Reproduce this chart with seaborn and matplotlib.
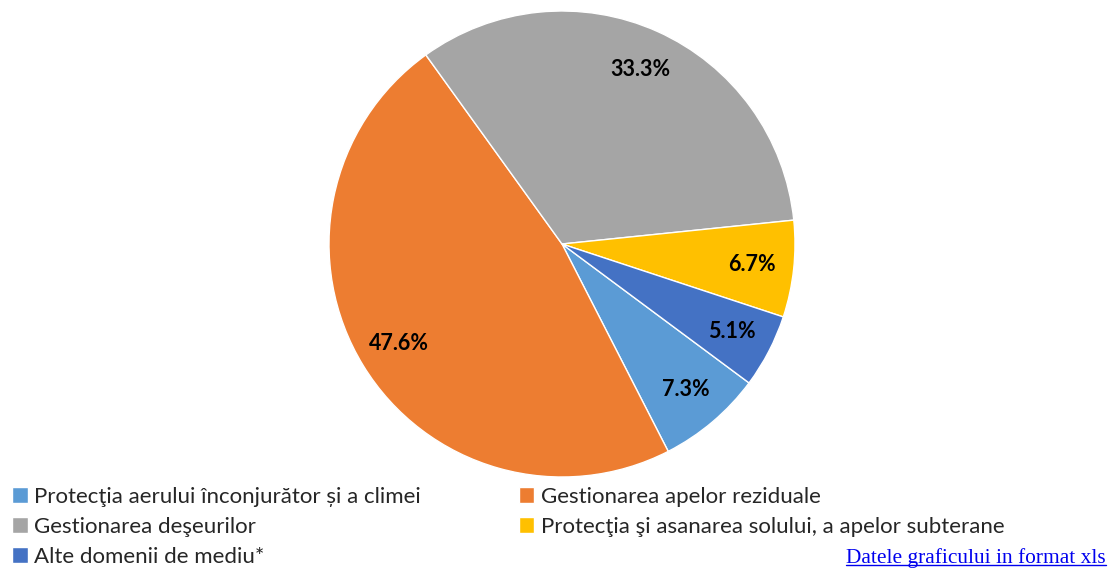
import matplotlib
matplotlib.use('Agg')
import matplotlib.pyplot as plt
import seaborn as sns

sns.set_theme(style='white')
plt.rcParams['font.family'] = ['Lato', 'DejaVu Sans']

# Data
categories = ['Protecţia aerului înconjurător și a climei',
              'Gestionarea apelor reziduale',
              'Gestionarea deşeurilor',
              'Protecţia şi asanarea solului, a apelor subterane',
              'Alte domenii de mediu*']
shares = [7.3, 47.6, 33.3, 6.7, 5.1]
colors = ['#5B9BD5', '#ED7D31', '#A5A5A5', '#FFC000', '#4472C4']

W, H = 1108, 568
fig = plt.figure(figsize=(W / 100, H / 100), dpi=100)

# pie area: centre ~ (562, 244) px, radius ~ 233 px
cx, cy, r = 562, 244, 233
ax = fig.add_axes([(cx - r) / W, (H - cy - r) / H, 2 * r / W, 2 * r / H])

wedges, texts, autotexts = ax.pie(
    shares, colors=colors, startangle=-36.6, counterclock=False,
    autopct='%1.1f%%', pctdistance=0.82, radius=1,
    wedgeprops=dict(edgecolor='white', linewidth=1))
for t in autotexts:
    t.set_fontsize(15.5)
    t.set_fontweight('bold')
    t.set_color('black')
ax.set_xlim(-1, 1)
ax.set_ylim(-1, 1)
ax.set_aspect('equal')
ax.axis('off')

# legend laid out row by row (matplotlib fills columns first)
order = [0, 2, 4, 1, 3]
leg = fig.legend([wedges[i] for i in order], [categories[i] for i in order],
                 ncol=2, loc='upper left', bbox_to_anchor=(12 / W, 1 - 487 / H),
                 frameon=False, fontsize=16, handlelength=0.7, handleheight=0.7,
                 handletextpad=0.3, labelspacing=0.45, columnspacing=4.4,
                 borderaxespad=0, borderpad=0)

# link text at the bottom right
link = fig.text(1106 / W, 1 - 563 / H, 'Datele graficului in format xls',
                ha='right', va='baseline', color='#0000EE', fontsize=15.4,
                family='Liberation Serif')
fig.canvas.draw()
bb = link.get_window_extent().transformed(fig.transFigure.inverted())
fig.add_artist(plt.Line2D([bb.x0, bb.x1], [1 - 565 / H] * 2, color='#0000EE',
                          linewidth=1, transform=fig.transFigure))

fig.savefig('out.png', dpi=100)
